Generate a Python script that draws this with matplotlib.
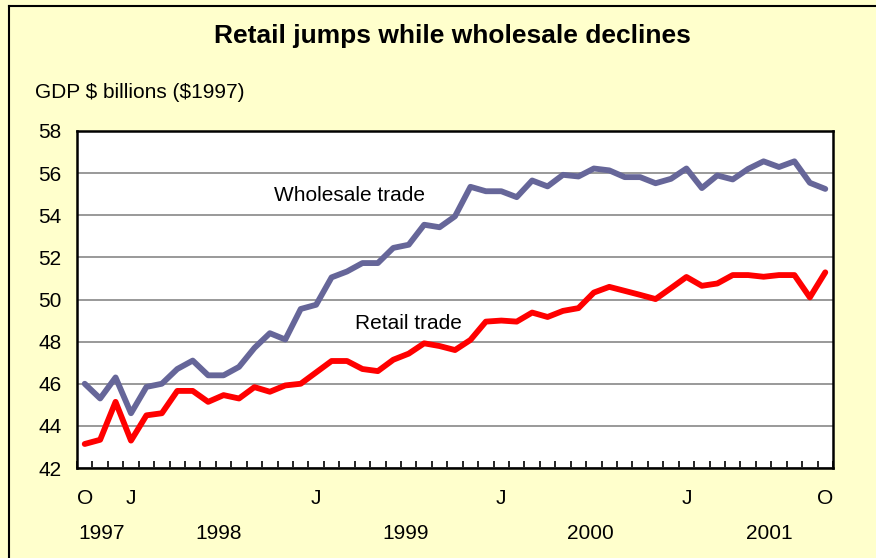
import matplotlib
matplotlib.use("Agg")
import matplotlib.pyplot as plt
from matplotlib.lines import Line2D
import numpy as np

plt.rcParams['font.family'] = ['Liberation Sans', 'DejaVu Sans']

# Monthly, Oct 1997 .. Oct 2001
wholesale = [46.0, 45.3, 46.3, 44.6, 45.85, 46.0, 46.7, 47.1, 46.4, 46.4,
             46.8, 47.7, 48.4, 48.1, 49.55, 49.75, 51.05, 51.33, 51.73, 51.73,
             52.45, 52.6, 53.55, 53.43, 53.95, 55.35, 55.14, 55.14, 54.86, 55.65,
             55.37, 55.92, 55.84, 56.22, 56.13, 55.81, 55.81, 55.52, 55.73, 56.22,
             55.29, 55.89, 55.7, 56.2, 56.56, 56.29, 56.56, 55.54, 55.25]
retail = [43.14, 43.34, 45.14, 43.3, 44.5, 44.6, 45.66, 45.66, 45.14, 45.46,
          45.3, 45.84, 45.62, 45.92, 46.0, 46.54, 47.08, 47.08, 46.7, 46.6,
          47.14, 47.43, 47.92, 47.79, 47.6, 48.08, 48.95, 49.0, 48.95, 49.38,
          49.17, 49.46, 49.59, 50.33, 50.6, 50.41, 50.22, 50.02, 50.54, 51.07,
          50.65, 50.76, 51.16, 51.16, 51.08, 51.16, 51.16, 50.1, 51.29]
month_labels = ['O', 'J', 'J', 'J', 'J', 'O']
month_label_idx = [0, 3, 15, 27, 39, 48]
year_labels = ['1997', '1998', '1999', '2000', '2001']
year_label_pos = [1.1, 8.7, 20.8, 32.75, 44.4]
yticks = [42, 44, 46, 48, 50, 52, 54, 56, 58]

bg = '#FFFFCC'
fig = plt.figure(figsize=(8.76, 5.58), dpi=100, facecolor=bg)
ax = fig.add_axes([77/876, 1-468/558, (833-77)/876, (468-131)/558])
ax.set_facecolor('white')

x = np.arange(len(wholesale))
ax.plot(x, wholesale, color='#666699', lw=4.2, solid_joinstyle='round', solid_capstyle='round', zorder=3)
ax.plot(x, retail, color='#FF0000', lw=4.2, solid_joinstyle='round', solid_capstyle='round', zorder=3)

ax.set_xlim(-0.5, len(x) - 0.5)
ax.set_ylim(42, 58)
ax.set_yticks(yticks)
ax.set_yticklabels([str(v) for v in yticks], fontsize=15)
ax.yaxis.grid(True, color='#999999', lw=1.4)
ax.set_axisbelow(True)
ax.tick_params(axis='y', length=0, pad=11)

ax.set_xticks(np.arange(len(x) + 1) - 0.5)
ax.set_xticklabels([])
ax.tick_params(axis='x', direction='in', length=5, width=1.2, color='black')

for s in ax.spines.values():
    s.set_linewidth(1.8)
    s.set_color('black')

trans = ax.get_xaxis_transform()
for lab, i in zip(month_labels, month_label_idx):
    ax.text(x[i], -0.09, lab, transform=trans, ha='center', va='center', fontsize=15)
for lab, p in zip(year_labels, year_label_pos):
    ax.text(p, -0.195, lab, transform=trans, ha='center', va='center', fontsize=15)

ax.text(12.3, 54.96, 'Wholesale trade', fontsize=15, ha='left', va='center')
ax.text(17.5, 48.88, 'Retail trade', fontsize=15, ha='left', va='center')

fig.text(452/876, 1-36/558, 'Retail jumps while wholesale declines', fontsize=19,
         fontweight='bold', ha='center', va='center')
fig.text(35/876, 1-93/558, r'GDP \$ billions (\$1997)', fontsize=15, ha='left', va='center')

# outer frame (left and top edges visible)
fig.add_artist(Line2D([8.5/876, 8.5/876], [0, 1-5.5/558], color='black', lw=1.5, transform=fig.transFigure))
fig.add_artist(Line2D([8.5/876, 1], [1-5.5/558, 1-5.5/558], color='black', lw=1.5, transform=fig.transFigure))

fig.savefig('out.png', dpi=100, facecolor=bg)
